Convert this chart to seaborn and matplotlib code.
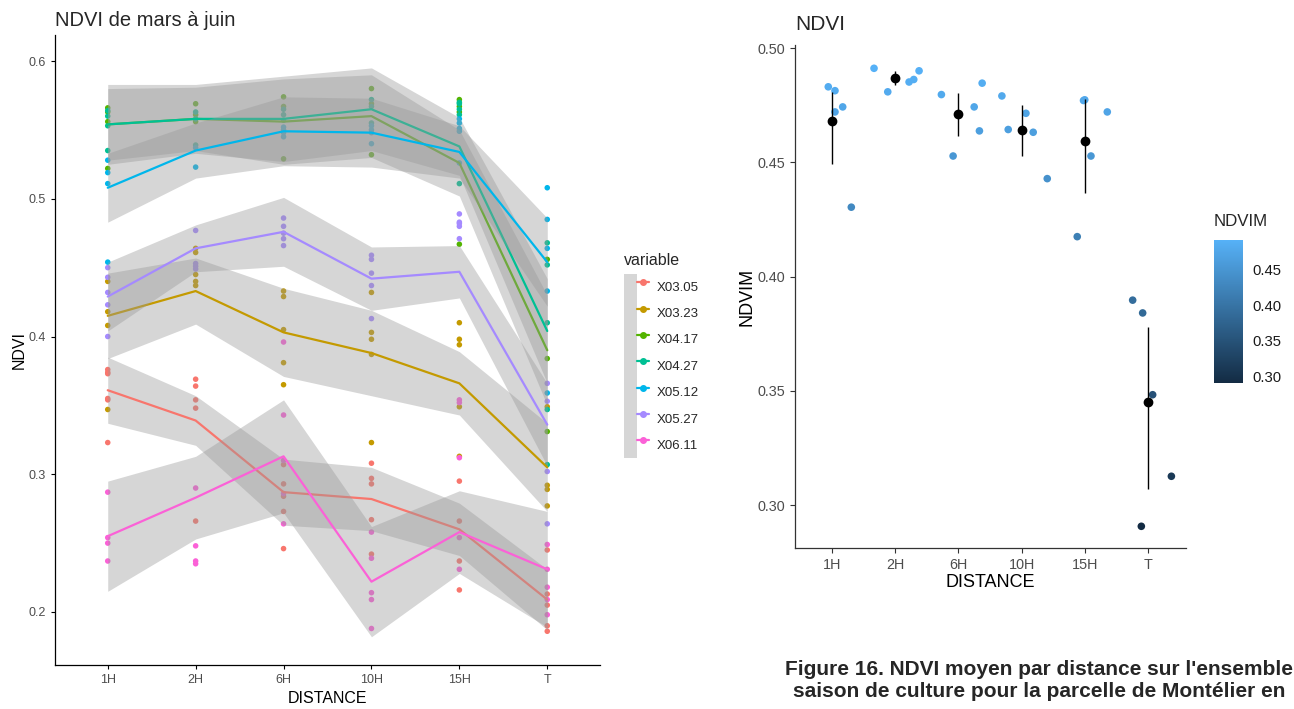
import numpy as np
import pandas as pd
import matplotlib
matplotlib.use("Agg")
import matplotlib.pyplot as plt
import seaborn as sns
from matplotlib.colors import LinearSegmentedColormap, Normalize
from matplotlib.cm import ScalarMappable
from matplotlib.lines import Line2D
from matplotlib.patches import Patch
from matplotlib.legend_handler import HandlerTuple
from matplotlib.ticker import FormatStrFormatter

# ---------------------------------------------------------------- data
DISTANCES = ["1H", "2H", "6H", "10H", "15H", "T"]
VARIABLES = ["X03.05", "X03.23", "X04.17", "X04.27", "X05.12", "X05.27", "X06.11"]
PALETTE = ["#F8766D", "#C49A00", "#53B400", "#00C094", "#00B6EB", "#A58AFF", "#FB61D7"]

# NDVI per plot for each acquisition date, one sub-list per distance
x03_05 = [[0.376, 0.374, 0.373, 0.355, 0.354, 0.323], [0.369, 0.364, 0.354, 0.348, 0.266],
          [0.307, 0.293, 0.284, 0.273, 0.246], [0.308, 0.297, 0.293, 0.267, 0.242],
          [0.295, 0.266, 0.237, 0.216], [0.245, 0.213, 0.205, 0.190, 0.186]]
x03_23 = [[0.440, 0.418, 0.408, 0.347], [0.464, 0.461, 0.445, 0.440, 0.437],
          [0.433, 0.429, 0.405, 0.381, 0.365], [0.432, 0.403, 0.398, 0.387, 0.323],
          [0.410, 0.398, 0.394, 0.349, 0.313], [0.349, 0.292, 0.289, 0.277]]
x04_17 = [[0.566, 0.563, 0.556, 0.522], [0.569, 0.561, 0.556], [0.574, 0.567, 0.529],
          [0.580, 0.569, 0.532], [0.572, 0.567, 0.563, 0.467], [0.456, 0.384, 0.331]]
x04_27 = [[0.564, 0.560, 0.553, 0.535], [0.563, 0.558, 0.539], [0.565, 0.561, 0.557],
          [0.572, 0.567, 0.555], [0.570, 0.569, 0.565, 0.561, 0.511],
          [0.468, 0.452, 0.410, 0.347, 0.307]]
x05_12 = [[0.528, 0.519, 0.511, 0.454], [0.537, 0.523], [0.552, 0.550, 0.548, 0.545],
          [0.553, 0.550, 0.548, 0.540], [0.558, 0.555, 0.551, 0.549, 0.526],
          [0.508, 0.485, 0.464, 0.433, 0.359]]
x05_27 = [[0.450, 0.443, 0.432, 0.423, 0.400], [0.477, 0.453, 0.451, 0.449],
          [0.486, 0.480, 0.475, 0.471, 0.466], [0.459, 0.456, 0.446, 0.437, 0.413],
          [0.489, 0.483, 0.482, 0.480, 0.471], [0.366, 0.353, 0.302, 0.264]]
x06_11 = [[0.287, 0.254, 0.250, 0.237], [0.290, 0.248, 0.237, 0.235],
          [0.396, 0.343, 0.310, 0.286, 0.264], [0.258, 0.239, 0.214, 0.209, 0.188],
          [0.354, 0.352, 0.312, 0.254, 0.231], [0.249, 0.231, 0.218, 0.209, 0.198]]

# smoothed NDVI per date and distance, with the half-width of its confidence band
fit_03_05 = [0.361, 0.339, 0.287, 0.282, 0.260, 0.209]
fit_03_23 = [0.415, 0.433, 0.403, 0.388, 0.366, 0.305]
fit_04_17 = [0.554, 0.558, 0.556, 0.560, 0.526, 0.390]
fit_04_27 = [0.554, 0.558, 0.558, 0.565, 0.538, 0.404]
fit_05_12 = [0.508, 0.535, 0.549, 0.548, 0.534, 0.454]
fit_05_27 = [0.429, 0.464, 0.476, 0.442, 0.447, 0.336]
fit_06_11 = [0.255, 0.283, 0.313, 0.222, 0.258, 0.231]

band_03_05 = [0.024, 0.018, 0.024, 0.023, 0.019, 0.022]
band_03_23 = [0.031, 0.024, 0.032, 0.031, 0.023, 0.032]
band_04_17 = [0.026, 0.023, 0.031, 0.030, 0.024, 0.040]
band_04_27 = [0.029, 0.025, 0.031, 0.030, 0.021, 0.038]
band_05_12 = [0.025, 0.020, 0.025, 0.025, 0.019, 0.032]
band_05_27 = [0.025, 0.017, 0.025, 0.023, 0.019, 0.030]
band_06_11 = [0.040, 0.030, 0.041, 0.040, 0.030, 0.042]

# season-mean NDVI (NDVIM) per plot, one sub-list per distance
ndvim = [[0.4831, 0.4814, 0.4721, 0.4743, 0.4304],
         [0.4912, 0.4809, 0.4852, 0.4863, 0.4901],
         [0.4797, 0.4528, 0.4743, 0.4638, 0.4847],
         [0.4791, 0.4644, 0.4715, 0.4632, 0.4429],
         [0.4175, 0.4771, 0.4774, 0.4528, 0.4721],
         [0.3897, 0.3841, 0.3483, 0.3126, 0.2907]]
# horizontal jitter of each plot within its distance column
ndvim_jitter = [[-0.054, 0.052, 0.052, 0.174, 0.310],
                [-0.331, -0.114, 0.223, 0.297, 0.381],
                [-0.266, -0.081, 0.252, 0.335, 0.378],
                [-0.310, -0.210, 0.070, 0.185, 0.407],
                [-0.119, -0.020, 0.000, 0.098, 0.356],
                [-0.243, -0.085, 0.073, 0.369, -0.106]]
# bootstrap confidence interval of the mean per distance
ci_low = [0.4493, 0.4839, 0.4617, 0.4530, 0.4365, 0.3069]
ci_high = [0.4810, 0.4898, 0.4806, 0.4752, 0.4777, 0.3781]

# ---------------------------------------------------------------- frames
series_points = [x03_05, x03_23, x04_17, x04_27, x05_12, x05_27, x06_11]
series_fit = [fit_03_05, fit_03_23, fit_04_17, fit_04_27, fit_05_12, fit_05_27, fit_06_11]
series_band = [band_03_05, band_03_23, band_04_17, band_04_27, band_05_12, band_05_27, band_06_11]

rows = []
for var, per_dist in zip(VARIABLES, series_points):
    for dist, vals in zip(DISTANCES, per_dist):
        for v in vals:
            rows.append((var, dist, v))
ndvi_long = pd.DataFrame(rows, columns=["variable", "DISTANCE", "NDVI"])

rows = []
for i, (dist, vals, jit) in enumerate(zip(DISTANCES, ndvim, ndvim_jitter)):
    for v, j in zip(vals, jit):
        rows.append((dist, v, i + j))
ndvim_df = pd.DataFrame(rows, columns=["DISTANCE", "NDVIM", "xpos"])

# ---------------------------------------------------------------- style
sns.set_theme(style="ticks")
plt.rcParams["font.family"] = ["Liberation Sans", "DejaVu Sans"]
plt.rcParams["axes.edgecolor"] = "black"
plt.rcParams["axes.linewidth"] = 0.9

W, H = 1294, 709
fig = plt.figure(figsize=(W / 100, H / 100), dpi=100)
TICK_GREY = "#4D4D4D"

# ---------------------------------------------------------------- left panel
axL = fig.add_axes([55 / W, 1 - 665 / H, 545 / W, 630 / H])
sns.stripplot(data=ndvi_long, x="DISTANCE", y="NDVI", hue="variable",
              order=DISTANCES, hue_order=VARIABLES, palette=PALETTE,
              jitter=False, dodge=False, size=4.0, linewidth=0,
              legend=False, ax=axL, zorder=1)

pos = np.arange(len(DISTANCES))
for col, fit, band in zip(PALETTE, series_fit, series_band):
    fit = np.asarray(fit)
    band = np.asarray(band)
    axL.fill_between(pos, fit - band, fit + band, color="#999999", alpha=0.4,
                     linewidth=0, zorder=2)
    sns.lineplot(x=pos, y=fit, color=col, linewidth=1.6, sort=False,
                 legend=False, ax=axL, zorder=2)

axL.set_xlim(-0.6, 5.6)
axL.set_ylim(0.1615, 0.6189)
axL.set_xticks(pos)
axL.set_xticklabels(DISTANCES)
axL.set_yticks([0.2, 0.3, 0.4, 0.5, 0.6])
axL.yaxis.set_major_formatter(FormatStrFormatter("%.1f"))
axL.tick_params(labelsize=9, labelcolor=TICK_GREY, length=3, width=0.8, color="black")
axL.set_xlabel("DISTANCE", fontsize=11.5, color="black")
axL.set_ylabel("NDVI", fontsize=11.5, color="black")
axL.xaxis.set_label_coords(0.5, -0.042)
axL.yaxis.set_label_coords(-0.052, 0.5)
sns.despine(ax=axL)
fig.text(55 / W, 1 - 21 / H, "NDVI de mars à juin", fontsize=14.5, va="center", ha="left")

handles = [(Patch(facecolor="#D6D6D6", edgecolor="none"),
            Line2D([], [], color=c, linewidth=1.6, marker="o", markersize=4))
           for c in PALETTE]
leg = fig.legend(handles, VARIABLES, handler_map={tuple: HandlerTuple(ndivide=None)},
                 loc="upper left", bbox_to_anchor=(624 / W, 1 - 253 / H),
                 bbox_transform=fig.transFigure, frameon=False,
                 title="variable", title_fontsize=11.5, fontsize=9.5,
                 handlelength=1.9, handleheight=2.7, labelspacing=0,
                 handletextpad=0.6, borderpad=0, borderaxespad=0, alignment="left")
leg._legend_box.sep = 4

# ---------------------------------------------------------------- right panel
axR = fig.add_axes([795 / W, 1 - 548 / H, 391 / W, 503 / H])
cmap = LinearSegmentedColormap.from_list("ndvim", ["#132B43", "#56B1F7"])
norm = Normalize(vmin=ndvim_df["NDVIM"].min(), vmax=ndvim_df["NDVIM"].max())
sns.scatterplot(data=ndvim_df, x="xpos", y="NDVIM", hue="NDVIM", palette=cmap,
                hue_norm=norm, s=30, linewidth=0, legend=False, ax=axR, zorder=2)
sns.pointplot(data=ndvim_df, x="DISTANCE", y="NDVIM", order=DISTANCES,
              errorbar=None, color="black", linestyle="none", markers="o",
              markersize=5, ax=axR, zorder=4)
axR.vlines(pos, ci_low, ci_high, color="black", linewidth=1.0, zorder=3)

axR.set_xlim(-0.58, 5.6)
axR.set_ylim(0.2812, 0.5014)
axR.set_xticks(pos)
axR.set_xticklabels(DISTANCES)
axR.set_yticks([0.30, 0.35, 0.40, 0.45, 0.50])
axR.yaxis.set_major_formatter(FormatStrFormatter("%.2f"))
axR.tick_params(labelsize=10.4, labelcolor=TICK_GREY, length=3.5, width=0.8, color="#333333")
for s in ("left", "bottom"):
    axR.spines[s].set_color("#333333")
axR.set_xlabel("DISTANCE", fontsize=13, color="black")
axR.set_ylabel("NDVIM", fontsize=13, color="black")
axR.xaxis.set_label_coords(0.5, -0.052)
axR.yaxis.set_label_coords(-0.10, 0.5)
sns.despine(ax=axR)
fig.text(795 / W, 1 - 25 / H, "NDVI", fontsize=15, va="center", ha="left")

# colour bar
cax = fig.add_axes([1214 / W, 1 - 383 / H, 29 / W, 143 / H])
cb = fig.colorbar(ScalarMappable(norm=norm, cmap=cmap), cax=cax,
                  ticks=[0.30, 0.35, 0.40, 0.45])
cb.outline.set_visible(False)
cax.yaxis.set_ticks_position("both")
cax.yaxis.set_major_formatter(FormatStrFormatter("%.2f"))
cax.tick_params(direction="in", length=4, width=1, color="white",
                left=True, right=True, labelleft=False, labelright=True,
                labelsize=10.7, labelcolor="#1A1A1A", pad=7)
fig.text(1214 / W, 1 - 222 / H, "NDVIM", fontsize=12.2, va="center", ha="left")

# ---------------------------------------------------------------- caption
fig.text(785 / W, 1 - 675 / H, "Figure 16. NDVI moyen par distance sur l'ensemble",
         fontsize=15.0, fontweight="bold", va="baseline", ha="left")
fig.text(793 / W, 1 - 697 / H, "saison de culture pour la parcelle de Montélier en",
         fontsize=15.0, fontweight="bold", va="baseline", ha="left")

fig.savefig("out.png", dpi=100)
